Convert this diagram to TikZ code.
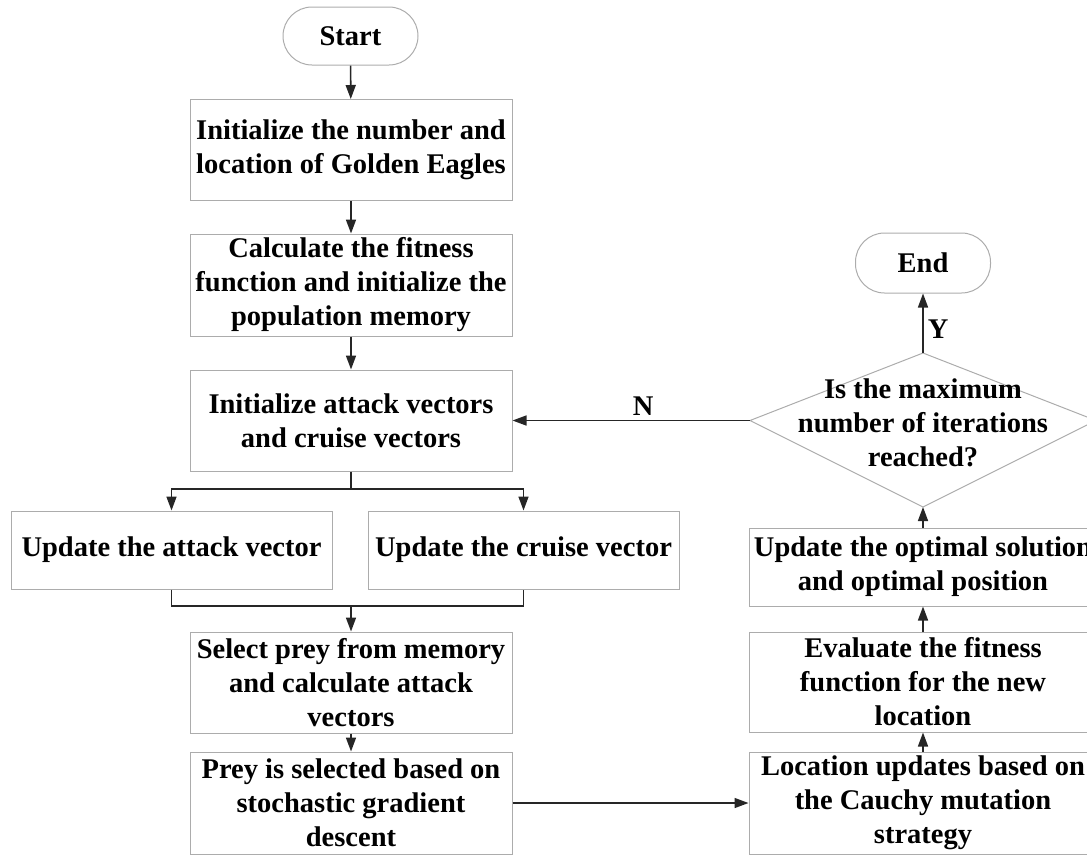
\documentclass[tikz,border=0pt]{standalone}
\usepackage{fontspec}
\setmainfont{Liberation Serif}
\usepackage{tikz}
\usetikzlibrary{arrows.meta}

\tikzset{
  txt/.style={font=\bfseries\fontsize{28.5}{34}\selectfont, align=center},
  box/.style={txt, draw=gray!65, line width=1pt, rectangle, inner sep=0pt},
  term/.style={box, rounded corners=29pt},
  dia/.style={draw=gray!65, line width=1pt},
  link/.style={draw=black!85, line width=1.6pt, -{Triangle[length=14pt,width=10pt]}},
  line/.style={draw=black!85, line width=1.6pt},
  yn/.style={txt, inner sep=4pt}
}

\begin{document}
\begin{tikzpicture}[x=1pt,y=-1pt]
        \useasboundingbox (0,0) rectangle (1087,855);
        % left column
        \node[term, minimum width=135, minimum height=58] (start) at (350.5,36) {Start};
        \node[box, minimum width=322, minimum height=101] (init) at (351,150) {Initialize the number and\\location of Golden Eagles};
        \node[box, minimum width=322, minimum height=102] (fit) at (351,285) {Calculate the fitness\\function and initialize the\\population memory};
        \node[box, minimum width=322, minimum height=101] (vec) at (351,420.5) {Initialize attack vectors\\and cruise vectors};
        \node[box, minimum width=321, minimum height=78] (atk) at (171.5,550) {Update the attack vector};
        \node[box, minimum width=311, minimum height=78] (cru) at (523.5,550) {Update the cruise vector};
        \node[box, minimum width=322, minimum height=101] (sel) at (351,682.5) {Select prey from memory\\and calculate attack\\vectors};
        \node[box, minimum width=322, minimum height=102] (prey) at (351,803) {Prey is selected based on\\stochastic gradient\\descent};
        % right column
        \node[box, minimum width=348, minimum height=102] (loc) at (923,803) {Location updates based on\\the Cauchy mutation\\strategy};
        \node[box, minimum width=348, minimum height=100] (eva) at (923,682) {Evaluate the fitness\\function for the new\\location};
        \node[box, minimum width=348, minimum height=78] (opt) at (923,567) {Update the optimal solution\\and optimal position};
        \coordinate (dtop) at (923,353);
        \coordinate (dleft) at (750,420.5);
        \coordinate (dbot) at (923,507);
        \coordinate (dright) at (1096,420.5);
        \draw[dia] (dtop) -- (dright) -- (dbot) -- (dleft) -- cycle;
        \node[txt] (dectxt) at (923,423) {Is the maximum\\number of iterations\\reached?};
        \node[term, minimum width=135, minimum height=60] (fin) at (923,263) {End};

        \coordinate (brn) at (351,489);
        \coordinate (mrg) at (351,606);

        \draw[link] (start) -- (init);
        \draw[link] (init) -- (fit);
        \draw[link] (fit) -- (vec);
        \draw[line] (vec.south) -- (brn);
        \draw[link] (brn) -| (atk.north);
        \draw[link] (brn) -| (cru.north);
        \draw[line] (atk.south) |- (mrg) -| (cru.south);
        \draw[link] (mrg) -- (sel.north);
        \draw[link] (sel) -- (prey);
        \draw[link] (prey.east) -- (loc.west);
        \draw[link] (loc) -- (eva);
        \draw[link] (eva) -- (opt);
        \draw[link] (opt.north) -- (dbot);
        \draw[link] (dtop) -- node[yn, right, pos=0.4] {Y} (fin.south);
        \draw[link] (dleft) -- node[yn, above, pos=0.45] {N} (vec.east);
    \end{tikzpicture}
\end{document}
